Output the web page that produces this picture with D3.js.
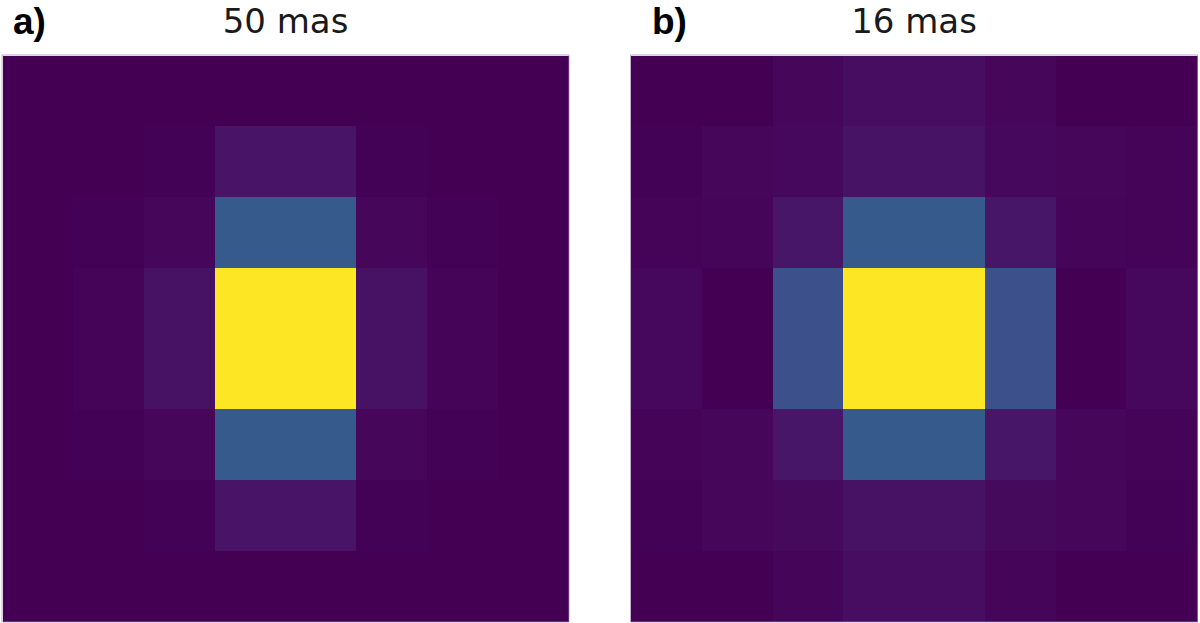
<!DOCTYPE html>
<html>
<head>
<meta charset="utf-8">
<script src="https://cdn.jsdelivr.net/npm/d3@7"></script>
<style>
  html, body { margin: 0; padding: 0; background: #fff; }
  svg { display: block; }
</style>
</head>
<body>
<svg id="chart" width="1200" height="623"></svg>
<script>
// ---- data (normalised intensity) ----
const rows = [0, 1, 2, 3, 4, 5, 6, 7];
const cols = [0, 1, 2, 3, 4, 5, 6, 7];

const panelTitles = ["50 mas", "16 mas"];
const panelLabels = ["a)", "b)"];

const psf50 = [
  [0.000, 0.000, 0.000, 0.002, 0.002, 0.000, 0.000, 0.000],
  [0.000, 0.000, 0.006, 0.052, 0.052, 0.006, 0.000, 0.000],
  [0.000, 0.004, 0.018, 0.280, 0.280, 0.018, 0.004, 0.000],
  [0.002, 0.008, 0.045, 1.000, 1.000, 0.045, 0.008, 0.002],
  [0.002, 0.008, 0.045, 1.000, 1.000, 0.045, 0.008, 0.002],
  [0.000, 0.004, 0.018, 0.280, 0.280, 0.018, 0.004, 0.000],
  [0.000, 0.000, 0.006, 0.052, 0.052, 0.006, 0.000, 0.000],
  [0.000, 0.000, 0.000, 0.002, 0.002, 0.000, 0.000, 0.000]
];

const psf16 = [
  [0.000, 0.002, 0.016, 0.032, 0.032, 0.016, 0.002, 0.000],
  [0.004, 0.018, 0.020, 0.048, 0.048, 0.020, 0.018, 0.008],
  [0.008, 0.012, 0.056, 0.280, 0.280, 0.056, 0.012, 0.008],
  [0.022, 0.003, 0.245, 1.000, 1.000, 0.245, 0.003, 0.022],
  [0.022, 0.003, 0.245, 1.000, 1.000, 0.245, 0.003, 0.022],
  [0.008, 0.016, 0.056, 0.280, 0.280, 0.056, 0.016, 0.008],
  [0.004, 0.018, 0.026, 0.045, 0.045, 0.026, 0.018, 0.004],
  [0.000, 0.002, 0.014, 0.032, 0.032, 0.014, 0.002, 0.000]
];

const panels = [psf50, psf16];

// ---- layout ----
const svg = d3.select("#chart");
const panelSize = 566;
const panelX = [2.5, 631];
const panelY = 55.5;

const x = d3.scaleBand().domain(cols).range([0, panelSize]).paddingInner(0).paddingOuter(0);
const y = d3.scaleBand().domain(rows).range([0, panelSize]).paddingInner(0).paddingOuter(0);
const color = d3.scaleSequential(d3.interpolateViridis).domain([0, 1]);

panels.forEach((grid, p) => {
  const g = svg.append("g").attr("transform", `translate(${panelX[p]},${panelY})`);

  const cells = [];
  grid.forEach((row, r) => row.forEach((v, c) => cells.push({ r, c, v })));

  g.selectAll("rect.cell")
    .data(cells)
    .join("rect")
    .attr("class", "cell")
    .attr("x", d => x(d.c))
    .attr("y", d => y(d.r))
    .attr("width", x.bandwidth() + 0.5)
    .attr("height", y.bandwidth() + 0.5)
    .attr("fill", d => color(d.v))
    .attr("shape-rendering", "crispEdges");

  // faint antialiased frame
  g.append("rect")
    .attr("x", -0.5).attr("y", -0.5)
    .attr("width", panelSize + 1).attr("height", panelSize + 1)
    .attr("fill", "none")
    .attr("stroke", "#a58cb3")
    .attr("stroke-width", 1)
    .attr("stroke-opacity", 0.7);

  // title
  svg.append("text")
    .attr("x", panelX[p] + panelSize / 2)
    .attr("y", 32.5)
    .attr("text-anchor", "middle")
    .attr("font-family", "DejaVu Sans, sans-serif")
    .attr("font-size", 34)
    .attr("fill", "#1a1a1a")
    .text(panelTitles[p]);
});

// panel labels
const labelX = [13, 652];
panelLabels.forEach((t, i) => {
  svg.append("text")
    .attr("x", labelX[i])
    .attr("y", 34)
    .attr("font-family", "Liberation Sans, Arial, sans-serif")
    .attr("font-weight", "bold")
    .attr("font-size", 37)
    .attr("fill", "#000")
    .text(t);
});
</script>
</body>
</html>
